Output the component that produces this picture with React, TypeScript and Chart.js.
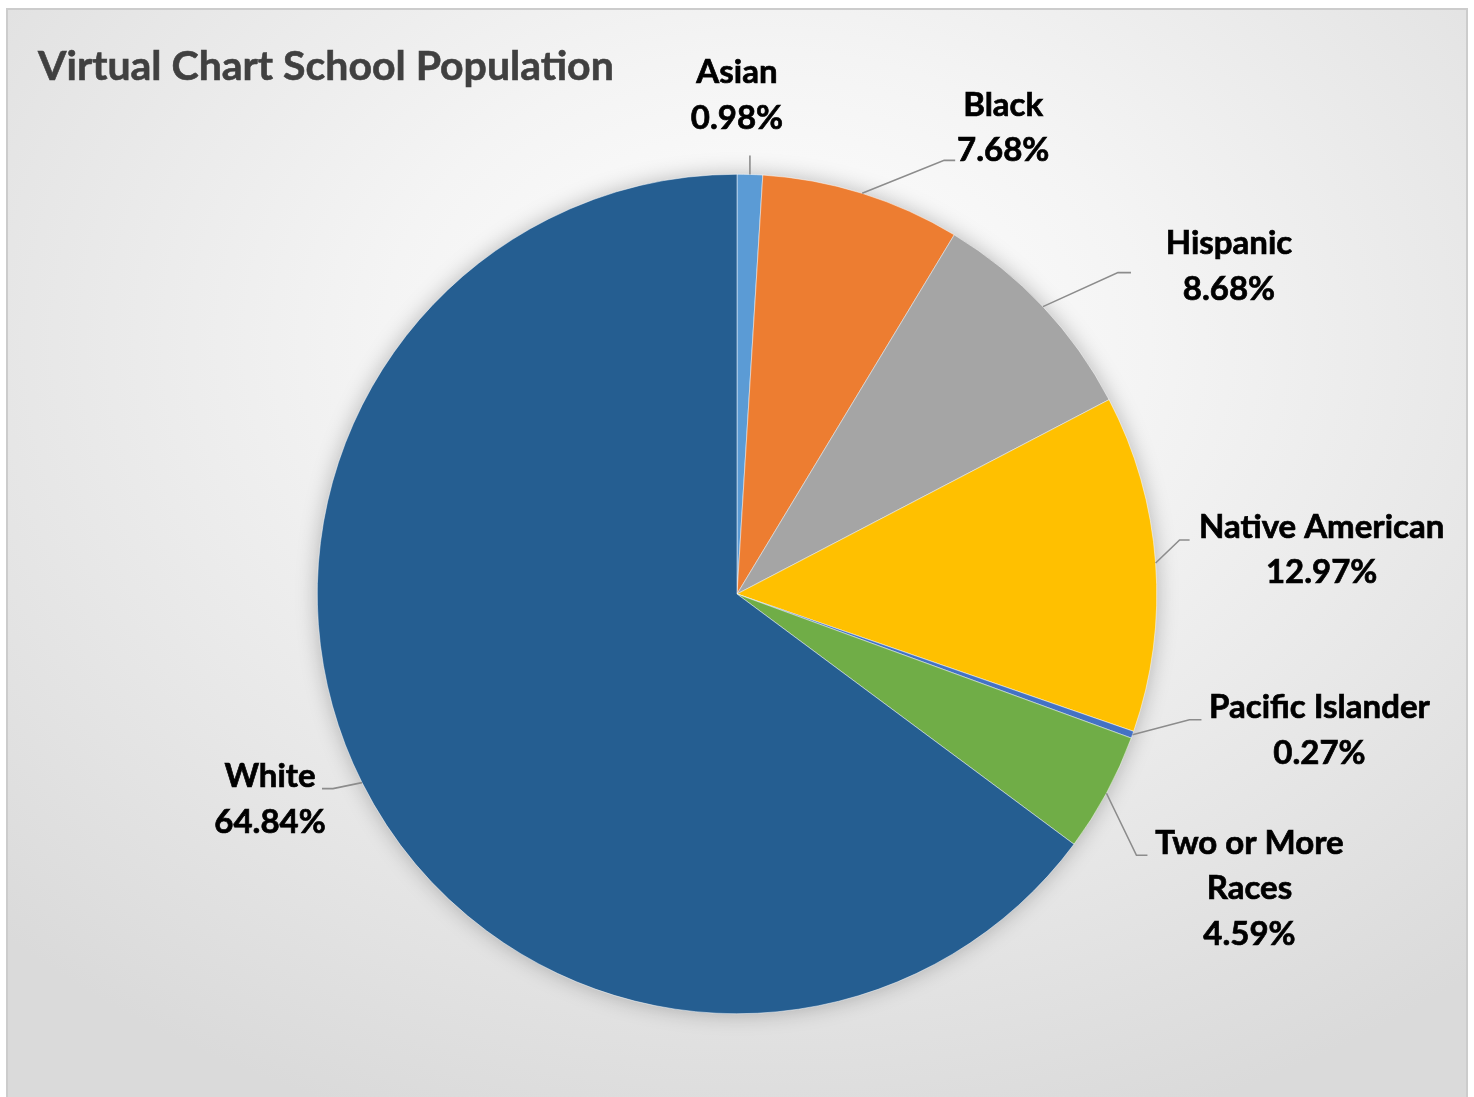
import React, { useEffect, useRef } from "react";
import { Chart, registerables } from "chart.js";

Chart.register(...registerables);

const chartTitle = "Virtual Chart School Population";
const categories = ["Asian", "Black", "Hispanic", "Native American", "Pacific Islander", "Two or More Races", "White"];
const percentages = [0.98, 7.68, 8.68, 12.97, 0.27, 4.59, 64.84];
const labelNameLines = [["Asian"], ["Black"], ["Hispanic"], ["Native American"], ["Pacific Islander"], ["Two or More", "Races"], ["White"]];
const sliceColors = ["#5B9BD5", "#ED7D31", "#A5A5A5", "#FFC000", "#4472C4", "#70AD47", "#255E91"];

// Label placement relative to each slice's outer-edge anchor point (style/layout, not data)
const labelLayout = [
  { elbow: null as null | number[], stub: 0, cx: -13, top: -102, vertical: -19 },
  { elbow: [82, -33], stub: 11, cx: 141, top: -88, vertical: 0 },
  { elbow: [75, -34], stub: 13, cx: 186, top: -63, vertical: 0 },
  { elbow: [24, -23], stub: 10, cx: 166, top: -36, vertical: 0 },
  { elbow: [57, -15], stub: 12, cx: 187, top: -27, vertical: 0 },
  { elbow: [30, 62], stub: 11, cx: 143, top: 50, vertical: 0 },
  { elbow: [-29, 6], stub: -11, cx: -92, top: -6, vertical: 0 },
];

const FONT = "Lato, 'Open Sans', 'DejaVu Sans', sans-serif";

function boldText(ctx: CanvasRenderingContext2D, t: string, x: number, y: number) {
  ctx.fillText(t, x, y);
  ctx.strokeText(t, x, y);
}

const labelsPlugin = {
  id: "excelLabels",
  beforeDatasetsDraw(chart: any) {
    const meta = chart.getDatasetMeta(0);
    const a = meta.data[0];
    if (!a) return;
    const { x, y, outerRadius } = a.getProps(["x", "y", "outerRadius"], true);
    const ctx = chart.ctx;
    ctx.save();
    ctx.shadowColor = "rgba(0,0,0,0.28)";
    ctx.shadowBlur = 22;
    ctx.shadowOffsetX = 0;
    ctx.shadowOffsetY = 0;
    ctx.fillStyle = "#255E91";
    ctx.beginPath();
    ctx.arc(x, y, outerRadius - 1, 0, Math.PI * 2);
    ctx.fill();
    ctx.restore();
  },
  afterDraw(chart: any) {
    const ctx = chart.ctx;
    const meta = chart.getDatasetMeta(0);
    ctx.save();
    // title
    ctx.fillStyle = "#404040";
    ctx.strokeStyle = "#404040";
    ctx.lineWidth = 0.6;
    ctx.font = `bold 41px ${FONT}`;
    ctx.textBaseline = "middle";
    ctx.textAlign = "left";
    boldText(ctx, chartTitle, 38, 67);

    meta.data.forEach((arc: any, i: number) => {
      const { x, y, startAngle, endAngle, outerRadius } = arc.getProps(
        ["x", "y", "startAngle", "endAngle", "outerRadius"],
        true
      );
      const mid = (startAngle + endAngle) / 2;
      const ax = x + Math.cos(mid) * outerRadius;
      const ay = y + Math.sin(mid) * outerRadius;
      const L = labelLayout[i];
      ctx.strokeStyle = "#8c8c8c";
      ctx.lineWidth = 1.6;
      ctx.beginPath();
      ctx.moveTo(ax, ay);
      if (L.elbow) {
        const ex = ax + L.elbow[0];
        const ey = ay + L.elbow[1];
        ctx.lineTo(ex, ey);
        ctx.lineTo(ex + L.stub, ey);
      } else {
        ctx.lineTo(ax, ay + L.vertical);
      }
      ctx.stroke();

      const lines = [...labelNameLines[i], percentages[i].toFixed(2) + "%"];
      ctx.fillStyle = "#000000";
      ctx.strokeStyle = "#000000";
      ctx.lineWidth = 0.7;
      ctx.font = `bold 33px ${FONT}`;
      ctx.textAlign = "center";
      ctx.textBaseline = "middle";
      lines.forEach((t, k) => {
        boldText(ctx, t, ax + L.cx, ay + L.top + k * 45.5);
      });
    });
    ctx.restore();
  },
};

export default function App() {
  const ref = useRef<HTMLCanvasElement | null>(null);
  useEffect(() => {
    if (!ref.current) return;
    const chart = new Chart(ref.current, {
      type: "pie",
      data: {
        labels: categories,
        datasets: [
          {
            data: percentages,
            backgroundColor: sliceColors,
            borderColor: "#ffffff",
            borderWidth: 0.5,
            hoverOffset: 0,
            offset: 0,
          },
        ],
      },
      options: {
        responsive: false,
        animation: false,
        events: [],
        layout: { padding: { left: 317, right: 317, top: 174, bottom: 83 } },
        plugins: {
          legend: { display: false },
          tooltip: { enabled: false },
          title: { display: false },
        },
      },
      plugins: [labelsPlugin],
    });
    return () => chart.destroy();
  }, []);

  return (
    <div style={{ position: "fixed", left: 0, top: 0, width: 1474, height: 1097, overflow: "hidden", background: "#ffffff" }}>
      <div
        style={{
          position: "absolute",
          left: 6,
          top: 8,
          width: 1462,
          height: 1110,
          boxSizing: "border-box",
          border: "2px solid #cccccc",
          background: "radial-gradient(ellipse 75% 75% at 52% 30%, #ffffff 0%, #f4f4f4 35%, #dadada 100%)",
        }}
      />
      <canvas ref={ref} width={1474} height={1097} style={{ position: "absolute", left: 0, top: 0 }} />
    </div>
  );
}
